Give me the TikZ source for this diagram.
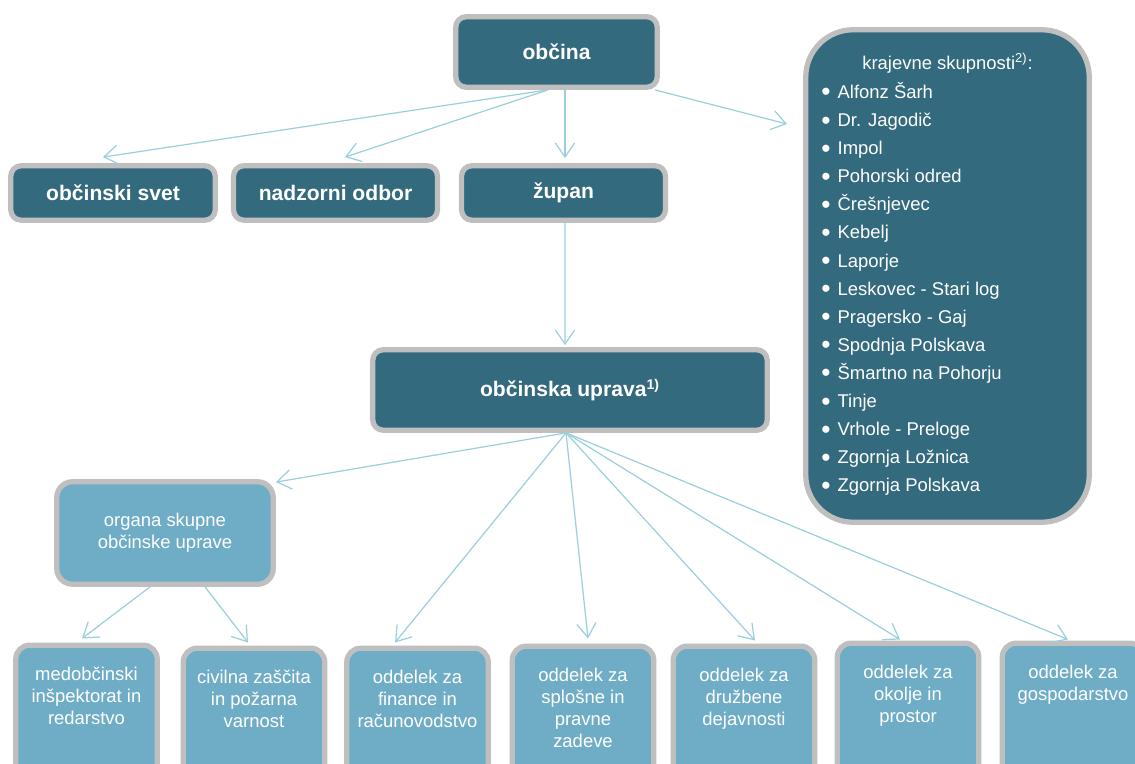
\documentclass[tikz,border=0pt]{standalone}
\usepackage{fontspec}
\setmainfont{Liberation Sans}
\usepackage{tikz}
\usetikzlibrary{arrows.meta,positioning}

\definecolor{darkteal}{RGB}{51,106,126}
\definecolor{lightteal}{RGB}{111,173,198}
\definecolor{boxgrey}{RGB}{191,191,191}
\definecolor{arrowblue}{RGB}{155,207,220}

\newcommand{\ksbullet}{\raisebox{-1.4pt}{\fontsize{15}{15}\selectfont\textbullet}}

\tikzset{
  darkbox/.style={draw=boxgrey, line width=3pt, fill=darkteal, rounded corners=6pt, text=white,
    font=\bfseries\fontsize{12}{14}\selectfont, inner sep=0pt, align=center},
  lightbox/.style={draw=boxgrey, line width=3pt, fill=lightteal, rounded corners=8pt, text=white,
    font=\fontsize{10.5}{12.5}\selectfont, inner sep=0pt, align=center},
  dept/.style={lightbox, anchor=north, minimum width=2.83cm, minimum height=3cm},
  depttext/.style={anchor=north, yshift=-0.48cm, inner sep=0pt, text=white, align=center,
    font=\fontsize{10.5}{12.5}\selectfont},
  conn/.style={draw=arrowblue, line width=0.7pt, -{Straight Barb[length=8pt,width=11pt]}},
  ksitem/.style={anchor=base west, inner sep=0pt, text=white, font=\fontsize{10.5}{12.5}\selectfont}
}

\begin{document}
\begin{tikzpicture}
  \useasboundingbox (0,0) rectangle (22.7,-15.28);
  \clip (0,0) rectangle (22.7,-15.28);

  % top level
  \node[darkbox, minimum width=4.03cm, minimum height=1.41cm] (obcina) at (11.13,-1.04) {občina};
  \node[darkbox, rounded corners=27pt, minimum width=5.67cm, minimum height=9.85cm] (ks) at (18.95,-5.52) {};

  \node[darkbox, minimum width=4.09cm, minimum height=1.09cm] (svet) at (2.26,-3.86) {občinski svet};
  \node[darkbox, minimum width=4.08cm, minimum height=1.09cm] (nadzor) at (6.71,-3.86) {nadzorni odbor};
  \node[darkbox, minimum width=4.08cm, minimum height=1.09cm] (zupan) at (11.27,-3.86) {župan};

  \node[darkbox, minimum width=7.89cm, minimum height=1.61cm] (uprava) at (11.40,-7.80)
    {občinska uprava\textsuperscript{1)}};

  % krajevne skupnosti
  \node[anchor=base, inner sep=0pt, text=white, font=\fontsize{10.5}{12.5}\selectfont] (kstitle)
    at (18.95,-1.39) {krajevne skupnosti\textsuperscript{2)}:};
  \foreach \name [count=\i] in {Alfonz Šarh, Dr. Jagodič, Impol, Pohorski odred, Črešnjevec,
      Kebelj, Laporje, Leskovec - Stari log, Pragersko - Gaj, Spodnja Polskava,
      Šmartno na Pohorju, Tinje, Vrhole - Preloge, Zgornja Ložnica, Zgornja Polskava}
    \node[ksitem] (ks\i) at (16.42,{-1.97-0.562*(\i-1)}) {\ksbullet\hspace{4pt}\name};

  % skupna uprava
  \node[lightbox, rounded corners=9pt, minimum width=4.33cm, minimum height=2.05cm] (organa) at (3.30,-10.66)
    {organa skupne\\občinske uprave};

  % oddelki
  \node[dept, label={[depttext]north:medobčinski\\inšpektorat in\\redarstvo}] (medob) at (1.73,-12.85) {};
  \node[dept, label={[depttext]north:civilna zaščita\\in požarna\\varnost}] (civil) at (5.08,-12.91) {};
  \node[dept, label={[depttext]north:oddelek za\\finance in\\računovodstvo}] (finance) at (8.35,-12.91) {};
  \node[dept, label={[depttext]north:oddelek za\\splošne in\\pravne\\zadeve}] (splosne) at (11.66,-12.87) {};
  \node[dept, label={[depttext]north:oddelek za\\družbene\\dejavnosti}] (druzbene) at (14.88,-12.87) {};
  \node[dept, label={[depttext]north:oddelek za\\okolje in\\prostor}] (okolje) at (18.16,-12.81) {};
  \node[dept, label={[depttext]north:oddelek za\\gospodarstvo}] (gospod) at (21.46,-12.81) {};

  \coordinate (kstip) at (15.74,-2.48);

  % connectors
  \draw[conn] ([xshift=-0.17cm]obcina.south) -- ([shift={(-0.2,0.12)}]svet.north);
  \draw[conn] ([xshift=-0.17cm]obcina.south) -- ([shift={(0.19,0.12)}]nadzor.north);
  \draw[conn] ([xshift=0.17cm]obcina.south) -- ([shift={(0.03,0.1)}]zupan.north);
  \draw[conn] ([xshift=-0.1cm]obcina.south east) -- (kstip);
  \draw[conn] ([xshift=0.03cm]zupan.south) -- ([shift={(-0.1,0.04)}]uprava.north);

  \draw[conn] ([xshift=-0.08cm]uprava.south) -- ([yshift=-0.06cm]organa.north east);
  \draw[conn] ([xshift=-0.08cm]uprava.south) -- ([shift={(-0.45,0.06)}]finance.north);
  \draw[conn] ([xshift=-0.08cm]uprava.south) -- ([shift={(0.1,0.1)}]splosne.north);
  \draw[conn] ([xshift=-0.08cm]uprava.south) -- ([shift={(0.22,0.06)}]druzbene.north);
  \draw[conn] ([xshift=-0.08cm]uprava.south) -- ([shift={(-0.16,0.02)}]okolje.north);
  \draw[conn] ([xshift=-0.08cm]uprava.south) -- ([shift={(-0.1,0.02)}]gospod.north);

  \draw[conn] ([xshift=-0.3cm]organa.south) -- ([shift={(-0.09,0.08)}]medob.north);
  \draw[conn] ([xshift=0.8cm]organa.south) -- ([shift={(-0.12,0.06)}]civil.north);
\end{tikzpicture}
\end{document}
